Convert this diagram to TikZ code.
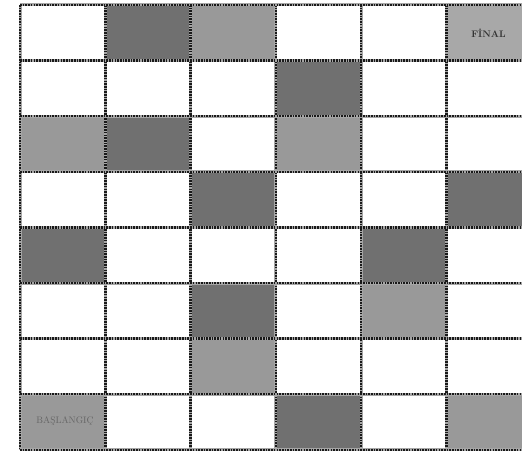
\documentclass[tikz,border=0pt]{standalone}
\usepackage{fontspec}
\definecolor{cellDark}{gray}{0.44}
\definecolor{cellMid}{gray}{0.60}
\definecolor{cellFinal}{gray}{0.66}
\tikzset{
  rope/.style={draw=black!35,line width=3pt,
    postaction={draw=black!90,line width=2.4pt,dash pattern=on 1.6pt off 1.1pt}},
  celltext/.style={inner sep=0pt}
}
\begin{document}
\begin{tikzpicture}[x=1pt,y=-1pt]
  \useasboundingbox (0,0) rectangle (522,457);
  \clip (0,0) rectangle (522,457);

  % shaded cells: column/row/colour
  \foreach \c/\r/\f in {2/1/cellDark,3/1/cellMid,6/1/cellFinal,
                        4/2/cellDark,
                        1/3/cellMid,2/3/cellDark,4/3/cellMid,
                        3/4/cellDark,6/4/cellDark,
                        1/5/cellDark,5/5/cellDark,
                        3/6/cellDark,5/6/cellMid,
                        3/7/cellMid,
                        1/8/cellMid,4/8/cellDark,6/8/cellMid}{
    \fill[\f] ({20+(\c-1)*85.3},{5+(\r-1)*55.6}) rectangle ++(85.3,55.6);
  }

  % grid lines
  \foreach \i in {0,...,6}
    \draw[rope] ({20+\i*85.3},5) -- ({20+\i*85.3},449.8);
  \foreach \j in {0,...,8}
    \draw[rope] (20,{5+\j*55.6}) -- (531.8,{5+\j*55.6});

  \node[celltext,font=\fontsize{9.5}{10}\selectfont\bfseries,text=black!80]
    (final) at (488.5,32.8) {FİNAL};
  \node[celltext,font=\fontsize{9.5}{10}\selectfont,text=black!60]
    (baslangic) at (65,421) {BAŞLANGIÇ};
\end{tikzpicture}
\end{document}
